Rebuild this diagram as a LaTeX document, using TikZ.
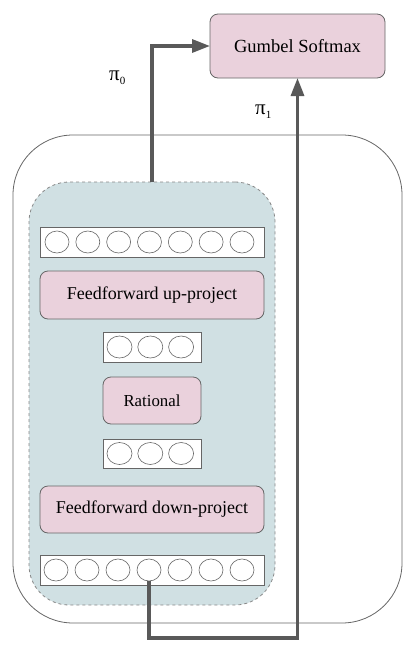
\documentclass[tikz,border=0pt]{standalone}
\usepackage{fontspec}
\setmainfont{Liberation Serif}
\usetikzlibrary{shapes.geometric,arrows.meta}
\definecolor{pinkfill}{HTML}{EAD1DC}
\definecolor{bluefill}{HTML}{D0E0E3}
\definecolor{boxgray}{HTML}{666666}
\definecolor{dashgray}{HTML}{888888}
\definecolor{arrowgray}{HTML}{595959}
\tikzset{
  pinkbox/.style={draw=boxgray, fill=pinkfill, rounded corners=8pt, line width=0.8pt, inner sep=0pt, outer sep=0pt},
  vecbox/.style={draw=boxgray, fill=white, line width=0.8pt, inner sep=0pt, outer sep=0pt},
  cell/.style={ellipse, draw=boxgray, line width=0.6pt, minimum width=24pt, minimum height=22pt, inner sep=0pt, outer sep=0pt},
  flow/.style={draw=arrowgray, line width=3.2pt, -{Triangle[length=18pt,width=13pt]}},
  pilbl/.style={font=\fontsize{21}{22}\selectfont, inner sep=0pt},
}
\newcommand{\subsc}[1]{\raisebox{-4.5pt}{\fontsize{11}{11}\selectfont #1}}
\begin{document}
\begin{tikzpicture}[x=1pt,y=-1pt]
\useasboundingbox (0,0) rectangle (415,646);
% outer container
\node[draw=boxgray, line width=0.8pt, rounded corners=60pt, minimum width=389pt, minimum height=488pt, inner sep=0pt] (outer) at (207.5,379) {};
% inner dashed container
\node[draw=dashgray, fill=bluefill, dashed, line width=0.8pt, rounded corners=40pt, minimum width=246pt, minimum height=423pt, inner sep=0pt] (inner) at (152,393.5) {};
% Gumbel
\node[pinkbox, minimum width=175pt, minimum height=64pt, font=\fontsize{18.5}{20}\selectfont] (gumbel) at (297.5,46) {Gumbel Softmax};
% top vector row
\node[vecbox, minimum width=224pt, minimum height=30pt] (toprow) at (152,242) {};
\foreach \i in {0,...,6} {
  \node[cell] (t\i) at ({57+\i*30.83},242) {};
}
\node[pinkbox, minimum width=224pt, minimum height=48pt, font=\fontsize{18}{20}\selectfont] (ffup) at (152,295) {Feedforward up-project};
\node[vecbox, minimum width=98pt, minimum height=30pt] (mid1) at (152,347) {};
\foreach \i in {0,1,2} {
  \node[cell, minimum width=25pt] (m\i) at ({119.5+\i*30.8},347) {};
}
\node[pinkbox, minimum width=98pt, minimum height=47pt, font=\fontsize{16.8}{20}\selectfont] (rational) at (152,400.5) {Rational};
\node[vecbox, minimum width=98pt, minimum height=29pt] (mid2) at (152,453.5) {};
\foreach \i in {0,1,2} {
  \node[cell, minimum width=25pt] (n\i) at ({119.5+\i*30.8},453.5) {};
}
\node[pinkbox, minimum width=224pt, minimum height=47pt, font=\fontsize{18}{20}\selectfont] (ffdown) at (152,509.5) {Feedforward down-project};
\node[vecbox, minimum width=224pt, minimum height=30pt] (botrow) at (152,570) {};
\foreach \i in {0,...,6} {
  \node[cell] (b\i) at ({56+\i*31},570) {};
}
% connectors
\coordinate (turn) at (152,638);
\draw[flow] (inner.north) |- (gumbel.west);
\draw[flow] (b3.south) -- (b3.south |- turn) -| (gumbel.south);
% labels
\node[pilbl, anchor=base west] (pi0) at (109,80) {π\subsc{0}};
\node[pilbl, anchor=base west] (pi1) at (255,114) {π\subsc{1}};
\end{tikzpicture}
\end{document}
